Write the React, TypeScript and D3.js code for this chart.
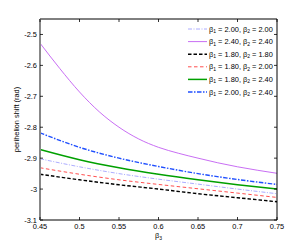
import React from "react";
import * as d3 from "d3";

const width = 306;
const height = 248;
const margin = { top: 19, right: 29, bottom: 28, left: 40 };

// beta_3 values
const beta3 = [0.45, 0.5, 0.55, 0.6, 0.65, 0.7, 0.75];
const beta3Fine = [0.45, 0.475, 0.5, 0.525, 0.55, 0.575, 0.6, 0.625, 0.65, 0.675, 0.7, 0.725, 0.75];

// perihelion shift (rad) for each (beta1, beta2)
const s200_200 = [-2.902, -2.928, -2.950, -2.968, -2.984, -3.000, -3.015];
const s240_240 = [-2.528, -2.610, -2.686, -2.750, -2.800, -2.838, -2.865, -2.884, -2.900, -2.915, -2.928, -2.939, -2.949];
const s180_180 = [-2.952, -2.970, -2.986, -3.000, -3.015, -3.028, -3.041];
const s180_200 = [-2.931, -2.952, -2.970, -2.985, -2.999, -3.013, -3.027];
const s180_240 = [-2.872, -2.905, -2.931, -2.952, -2.970, -2.986, -3.000];
const s200_240 = [-2.818, -2.865, -2.900, -2.927, -2.950, -2.969, -2.985];

const xTicks = [0.45, 0.5, 0.55, 0.6, 0.65, 0.7, 0.75];
const xTickLabels = ["0.45", "0.5", "0.55", "0.6", "0.65", "0.7", "0.75"];
const yTicks = [-3.1, -3.0, -2.9, -2.8, -2.7, -2.6, -2.5];
const yTickLabels = ["-3.1", "-3", "-2.9", "-2.8", "-2.7", "-2.6", "-2.5"];

const series = [
  { b1: "2.00", b2: "2.00", xs: beta3, ys: s200_200, color: "#a3a3ff", width: 0.9, dash: "4,1.5,1,1.5" },
  { b1: "2.40", b2: "2.40", xs: beta3Fine, ys: s240_240, color: "#c25ef2", width: 0.9, dash: null },
  { b1: "1.80", b2: "1.80", xs: beta3, ys: s180_180, color: "#000000", width: 1.4, dash: "3.5,2" },
  { b1: "1.80", b2: "2.00", xs: beta3, ys: s180_200, color: "#ff3b3b", width: 0.9, dash: "3.5,2.5" },
  { b1: "1.80", b2: "2.40", xs: beta3, ys: s180_240, color: "#00a000", width: 1.5, dash: null },
  { b1: "2.00", b2: "2.40", xs: beta3, ys: s200_240, color: "#1f4fff", width: 1.4, dash: "4.5,1.5,1.5,1.5" },
];

const font = "'Liberation Sans', Arial, Helvetica, sans-serif";

export default function App() {
  const x = d3.scaleLinear().domain([0.45, 0.75]).range([margin.left, width - margin.right]);
  const y = d3.scaleLinear().domain([-3.1, -2.45]).range([height - margin.bottom, margin.top]);
  const x0 = margin.left, x1 = width - margin.right;
  const y0 = margin.top, y1 = height - margin.bottom;

  const line = (xs: number[], ys: number[]) =>
    d3.line<number>()
      .x((_, i) => x(xs[i]))
      .y((d) => y(d))
      .curve(d3.curveMonotoneX)(ys);

  const legX = 188, legY = 29, legStep = 12.6;

  return (
    <svg width={width} height={height} style={{ position: "absolute", left: 0, top: 0, background: "#fff" }}
      fontFamily={font} fontSize={7.4}>
      <rect width={width} height={height} fill="#fff" />
      {series.map((s, i) => (
        <path key={i} d={line(s.xs, s.ys) || ""} fill="none" stroke={s.color}
          strokeWidth={s.width} strokeDasharray={s.dash || undefined} />
      ))}

      {/* frame */}
      <line x1={x0} x2={x1} y1={y0} y2={y0} stroke="#000" strokeWidth={1} />
      <line x1={x0} x2={x1} y1={y1} y2={y1} stroke="#000" strokeWidth={1} />
      <line x1={x1} x2={x1} y1={y0} y2={y1} stroke="#000" strokeWidth={1} />
      <line x1={x0} x2={x0} y1={y0} y2={y1} stroke="#888" strokeWidth={2} />

      {xTicks.map((t, i) => (
        <g key={"x" + i}>
          <line x1={x(t)} x2={x(t)} y1={y1} y2={y1 - 3} stroke="#000" strokeWidth={0.8} />
          <line x1={x(t)} x2={x(t)} y1={y0} y2={y0 + 3} stroke="#000" strokeWidth={0.8} />
          <text x={x(t)} y={y1 + 9} textAnchor="middle">{xTickLabels[i]}</text>
        </g>
      ))}
      {yTicks.map((t, i) => (
        <g key={"y" + i}>
          <line x1={x0} x2={x0 + 3} y1={y(t)} y2={y(t)} stroke="#000" strokeWidth={0.8} />
          <line x1={x1} x2={x1 - 3} y1={y(t)} y2={y(t)} stroke="#000" strokeWidth={0.8} />
          <text x={x0 - 3} y={y(t) + 2.5} textAnchor="end">{yTickLabels[i]}</text>
        </g>
      ))}

      <text x={(x0 + x1) / 2} y={y1 + 18} textAnchor="middle">
        β<tspan fontSize={5} dy={2}>3</tspan>
      </text>
      <text transform={`translate(19,${(y0 + y1) / 2}) rotate(-90)`} textAnchor="middle">
        perihelion shift (rad)
      </text>

      {series.map((s, i) => {
        const ly = legY + i * legStep;
        return (
          <g key={"l" + i}>
            <line x1={legX} x2={legX + 19} y1={ly} y2={ly} stroke={s.color}
              strokeWidth={s.width} strokeDasharray={s.dash || undefined} />
            <text x={legX + 21} y={ly + 2.5}>
              β<tspan fontSize={5} dy={1.5}>1</tspan>
              <tspan dy={-1.5}> = {s.b1}, β</tspan>
              <tspan fontSize={5} dy={1.5}>2</tspan>
              <tspan dy={-1.5}> = {s.b2}</tspan>
            </text>
          </g>
        );
      })}
    </svg>
  );
}
